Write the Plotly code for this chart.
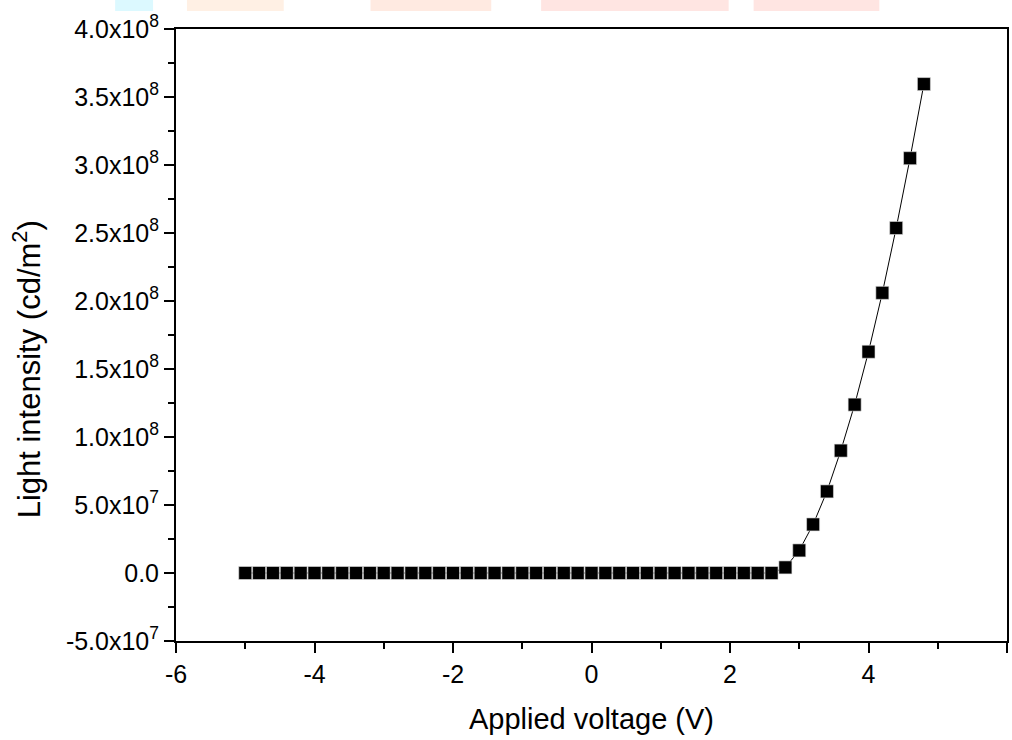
import plotly.graph_objects as go

# ---- data ----
voltage_flat = [round(-5.0 + 0.2 * i, 1) for i in range(39)]  # -5.0 ... 2.6
intensity_flat = [0.0] * len(voltage_flat)
voltage_rise = [2.8, 3.0, 3.2, 3.4, 3.6, 3.8, 4.0, 4.2, 4.4, 4.6, 4.8]
intensity_rise = [4.1e6, 1.66e7, 3.57e7, 6.0e7, 9.0e7, 1.238e8, 1.627e8,
                  2.06e8, 2.537e8, 3.05e8, 3.595e8]
voltage = voltage_flat + voltage_rise
intensity = intensity_flat + intensity_rise

y_tick_vals = [-5e7, 0, 5e7, 1e8, 1.5e8, 2e8, 2.5e8, 3e8, 3.5e8, 4e8]
y_tick_text = ["-5.0x10<sup>7</sup>", "0.0", "5.0x10<sup>7</sup>",
               "1.0x10<sup>8</sup>", "1.5x10<sup>8</sup>", "2.0x10<sup>8</sup>",
               "2.5x10<sup>8</sup>", "3.0x10<sup>8</sup>", "3.5x10<sup>8</sup>",
               "4.0x10<sup>8</sup>"]
x_tick_vals = [-6, -4, -2, 0, 2, 4, 6]
x_tick_text = ["-6", "-4", "-2", "0", "2", "4", "6"]

FONT = "Liberation Sans, Arial, sans-serif"

fig = go.Figure()
fig.add_trace(go.Scatter(
    x=voltage, y=intensity, mode="lines+markers",
    line=dict(color="black", width=1),
    marker=dict(symbol="square", size=13, color="black",
                line=dict(width=0.6, color="#dddddd")),
    showlegend=False, hoverinfo="x+y",
))

# faint watermark bands at the very top of the image
W, H = 1012, 740
L, R, T, B = 176, 3, 29, 99
pw, ph = W - L - R, H - T - B
def px_x(p):
    return (p - L) / pw
def px_y(p):
    return (H - B - p) / ph
bands = [(115, 153, "rgba(205,246,255,0.7)"), (187, 284, "rgba(255,234,216,0.7)"),
         (371, 492, "rgba(255,225,212,0.7)"), (542, 730, "rgba(255,218,214,0.7)"),
         (755, 881, "rgba(255,218,214,0.7)")]
for x0, x1, c in bands:
    fig.add_shape(type="rect", xref="paper", yref="paper",
                  x0=px_x(x0), x1=px_x(x1), y0=px_y(11), y1=px_y(0),
                  fillcolor=c, line=dict(width=0), layer="below")

fig.update_layout(
    width=W, height=H,
    margin=dict(l=L, r=R, t=T, b=B),
    plot_bgcolor="white", paper_bgcolor="white",
    font=dict(family=FONT, color="black"),
    xaxis=dict(
        range=[-6, 6], tickmode="array", tickvals=x_tick_vals, ticktext=x_tick_text,
        ticks="outside", ticklen=10, tickwidth=2, tickcolor="black",
        showline=True, linewidth=2, linecolor="black", mirror=True,
        showgrid=False, zeroline=False,
        tickfont=dict(size=25, family=FONT),
        minor=dict(tickmode="linear", tick0=-5, dtick=2, ticks="outside",
                   ticklen=6, tickwidth=2, tickcolor="black", showgrid=False),
        title=dict(text="Applied voltage (V)", font=dict(size=29, family=FONT),
                   standoff=22),
    ),
    yaxis=dict(
        range=[-5e7, 4e8], tickmode="array", tickvals=y_tick_vals,
        ticktext=y_tick_text,
        ticks="outside", ticklen=10, tickwidth=2, tickcolor="black",
        showline=True, linewidth=2, linecolor="black", mirror=True,
        showgrid=False, zeroline=False,
        tickfont=dict(size=25, family=FONT),
        minor=dict(tickmode="linear", tick0=-2.5e7, dtick=5e7, ticks="outside",
                   ticklen=6, tickwidth=2, tickcolor="black", showgrid=False),
    ),
    annotations=[dict(
        text="Light intensity (cd/m<sup>2</sup>)", textangle=-90,
        xref="paper", yref="paper", x=px_x(27), y=px_y(369),
        xanchor="center", yanchor="middle", showarrow=False,
        font=dict(size=31, family=FONT, color="black"),
    )],
)

fig.write_html("out.html")
